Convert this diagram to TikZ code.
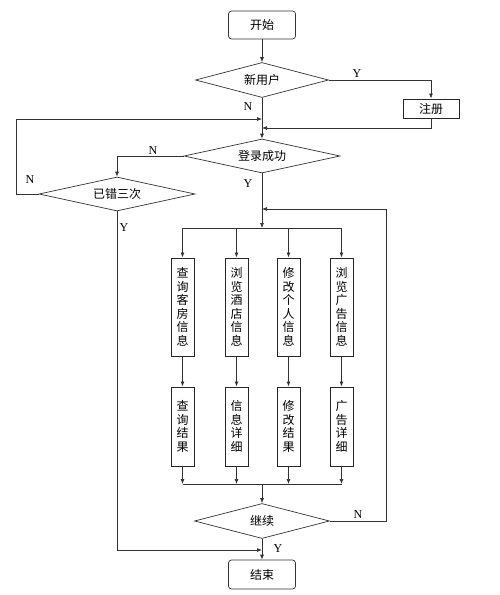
\documentclass[tikz,border=0pt]{standalone}
\usepackage{fontspec}
\setmainfont{Liberation Serif}
\newfontfamily\cjk{Noto Sans CJK SC}
\usetikzlibrary{shapes.geometric,arrows.meta}
\begin{document}
\begin{tikzpicture}[x=1pt,y=-1pt,
  line width=0.7pt, draw=black!80,
  >={Latex[length=5pt,width=4pt]},
  cjkfont/.style={font=\cjk\fontsize{12}{13.5}\selectfont},
  term/.style={draw=black!80, rounded corners=3pt, minimum width=67pt, minimum height=28pt, inner sep=0pt, cjkfont},
  procbox/.style={draw=black!85, line width=1pt, minimum width=56pt, minimum height=19pt, inner sep=0pt, cjkfont},
  vbox/.style={draw=black!85, line width=1pt, minimum width=23pt, inner sep=1pt, align=center, cjkfont},
  decide/.style={draw=black!80, diamond, aspect=4, inner sep=0pt, cjkfont},
  yn/.style={font=\fontsize{12}{12}\selectfont, inner sep=0pt},
  link/.style={draw=black!80, line width=0.7pt}
]
\fill[white] (0,0) rectangle (500,595);
\useasboundingbox (0,0) rectangle (500,595);

\node[term] (start) at (262,25) {开始};
\node[decide, minimum width=133pt, minimum height=35pt] (d1) at (262,80) {新用户};
\node[procbox] (reg) at (431,108.5) {注册};
\node[decide, minimum width=156pt, minimum height=34pt] (d2) at (262,156) {登录成功};
\node[decide, minimum width=156pt, minimum height=34pt] (d3) at (117,194) {已错三次};

\node[vbox, minimum height=98pt] (r1) at (182.5,307) {查\\询\\客\\房\\信\\息};
\node[vbox, minimum height=98pt] (r2) at (236.5,307) {浏\\览\\酒\\店\\信\\息};
\node[vbox, minimum height=98pt] (r3) at (288.5,307) {修\\改\\个\\人\\信\\息};
\node[vbox, minimum height=98pt] (r4) at (341.5,307) {浏\\览\\广\\告\\信\\息};

\node[vbox, minimum height=79pt] (s1) at (182.5,426.5) {查\\询\\结\\果};
\node[vbox, minimum height=79pt] (s2) at (236.5,426.5) {信\\息\\详\\细};
\node[vbox, minimum height=79pt] (s3) at (288.5,426.5) {修\\改\\结\\果};
\node[vbox, minimum height=79pt] (s4) at (341.5,426.5) {广\\告\\详\\细};

\node[decide, minimum width=135pt, minimum height=35pt] (d4) at (262,521) {继续};
\node[term, minimum height=29pt] (end) at (262,574.5) {结束};

\coordinate (jreg) at (262,128);
\coordinate (jleft) at (262,119);
\coordinate (lefttop) at (16,119);
\coordinate (leftmid) at (16,194);
\coordinate (split) at (262,228);
\coordinate (merge) at (262,484);
\coordinate (loopin) at (262,209);
\coordinate (loopbr) at (386,521);
\coordinate (looptr) at (386,209);
\coordinate (endin) at (262,550);
\coordinate (d3bl) at (117,550);

% connectors
\draw[link,->] (start) -- (d1);
\draw[link,->] (d1.east) -| (reg.north);
\draw[link,->] (reg.south) |- (jreg);
\draw[link,->] (d1.south) -- (d2.north);
\draw[link,->] (d3.west) -- (leftmid) -- (lefttop) -- (jleft);
\draw[link,->] (d2.west) -| (d3.north);
\draw[link,->] (d2.south) -- (split);
\draw[link] (r1.north |- split) -- (r4.north |- split);
\foreach \i in {1,2,3,4} {
  \draw[link,->] (r\i.north |- split) -- (r\i.north);
  \draw[link,->] (r\i) -- (s\i);
  \draw[link,->] (s\i.south) -- (s\i.south |- merge);
}
\draw[link] (s1.south |- merge) -- (s4.south |- merge);
\draw[link,->] (merge) -- (d4.north);
\draw[link,->] (d4.east) -- (loopbr) -- (looptr) -- (loopin);
\draw[link,->] (d4.south) -- (end.north);
\draw[link,->] (d3.south) -- (d3bl) -- (endin);

% labels
\node[yn] (lY1) at (357,74) {Y};
\node[yn] (lN1) at (248,107) {N};
\node[yn] (lN2) at (153,151) {N};
\node[yn] (lN3) at (30,180) {N};
\node[yn] (lY2) at (248,184) {Y};
\node[yn] (lY3) at (124,228) {Y};
\node[yn] (lN4) at (358,515) {N};
\node[yn] (lY4) at (278,549) {Y};
\end{tikzpicture}
\end{document}
